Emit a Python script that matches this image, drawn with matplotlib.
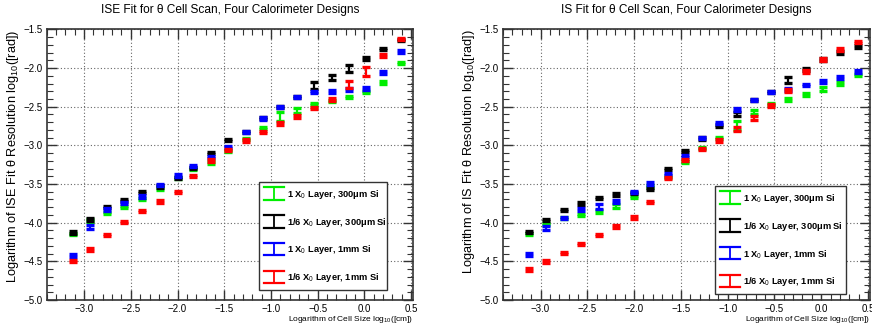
import matplotlib
matplotlib.use("Agg")
import matplotlib.pyplot as plt
from matplotlib.ticker import MultipleLocator
from matplotlib.legend_handler import HandlerBase
from matplotlib.lines import Line2D

main_font = 'Liberation Sans'
plt.rcParams['font.family'] = [main_font, 'DejaVu Sans']
plt.rcParams['mathtext.fontset'] = 'custom'
plt.rcParams['mathtext.rm'] = main_font
plt.rcParams['mathtext.it'] = main_font
plt.rcParams['mathtext.bf'] = main_font + ':bold'
plt.rcParams['axes.unicode_minus'] = True

# log10 of cell size [cm]
cell_size_log = [-3.12, -2.94, -2.75, -2.57, -2.38, -2.19, -2.00, -1.83, -1.64, -1.46,
                 -1.27, -1.09, -0.90, -0.72, -0.54, -0.35, -0.16, 0.02, 0.20, 0.39]

labels = ["1 X$_0$ Layer, 300\u03bcm Si", "1/6 X$_0$ Layer, 300\u03bcm Si",
          "1 X$_0$ Layer, 1mm Si", "1/6 X$_0$ Layer, 1mm Si"]
colors = ["#00ee00", "#000000", "#0000ff", "#ff0000"]

# ISE fit
ise_green = [-4.15, -3.97, -3.875, -3.80, -3.69, -3.557, -3.42, -3.306, -3.22, -3.07,
             -2.919, -2.777, -2.627, -2.549, -2.466, -2.424, -2.376, -2.311, -2.187, -1.937]
ise_black = [-4.125, -3.96, -3.797, -3.703, -3.60, -3.53, -3.423, -3.29, -3.10, -2.928,
             -2.829, -2.65, -2.505, -2.37, -2.226, -2.122, -2.002, -1.881, -1.756, -1.636]
ise_blue = [-4.42, -4.056, -3.83, -3.745, -3.66, -3.513, -3.389, -3.264, -3.151, -3.022,
            -2.83, -2.652, -2.505, -2.376, -2.307, -2.303, -2.282, -2.26, -2.058, -1.787]
ise_red = [-4.495, -4.345, -4.16, -3.987, -3.849, -3.725, -3.60, -3.40, -3.195, -3.06,
           -2.937, -2.824, -2.712, -2.626, -2.518, -2.411, -2.217, -2.045, -1.842, -1.623]
ise_green_err = [0.015, 0.015, 0.015, 0.015, 0.015, 0.015, 0.015, 0.015, 0.015, 0.015,
                 0.015, 0.015, 0.056, 0.032, 0.015, 0.015, 0.015, 0.015, 0.015, 0.015]
ise_black_err = [0.015, 0.015, 0.015, 0.015, 0.015, 0.015, 0.015, 0.015, 0.015, 0.015,
                 0.015, 0.015, 0.015, 0.015, 0.047, 0.037, 0.047, 0.02, 0.015, 0.015]
ise_blue_err = [0.02, 0.02, 0.015, 0.015, 0.015, 0.015, 0.015, 0.015, 0.015, 0.015,
                0.015, 0.015, 0.015, 0.015, 0.015, 0.015, 0.02, 0.02, 0.015, 0.015]
ise_red_err = [0.015, 0.015, 0.015, 0.015, 0.015, 0.015, 0.015, 0.015, 0.015, 0.015,
               0.015, 0.015, 0.02, 0.02, 0.015, 0.02, 0.045, 0.058, 0.02, 0.015]

# IS fit
is_green = [-4.146, -4.017, -3.94, -3.897, -3.854, -3.784, -3.668, -3.526, -3.41, -3.216,
            -3.03, -2.902, -2.743, -2.57, -2.463, -2.407, -2.337, -2.269, -2.195, -2.088]
is_black = [-4.12, -3.965, -3.836, -3.75, -3.677, -3.634, -3.616, -3.561, -3.302, -3.074,
            -2.91, -2.751, -2.592, -2.411, -2.311, -2.152, -2.023, -1.89, -1.80, -1.726]
is_blue = [-4.41, -4.07, -3.935, -3.828, -3.79, -3.725, -3.604, -3.492, -3.371, -3.138,
           -2.902, -2.708, -2.536, -2.411, -2.311, -2.278, -2.217, -2.174, -2.123, -2.045]
is_red = [-4.607, -4.50, -4.392, -4.276, -4.16, -4.048, -3.931, -3.729, -3.423, -3.186,
          -3.044, -2.937, -2.786, -2.648, -2.484, -2.29, -2.045, -1.89, -1.761, -1.666]
is_green_err = [0.015, 0.015, 0.015, 0.015, 0.02, 0.02, 0.015, 0.015, 0.015, 0.015,
                0.015, 0.015, 0.06, 0.03, 0.015, 0.02, 0.02, 0.025, 0.02, 0.015]
is_black_err = [0.015, 0.015, 0.015, 0.015, 0.015, 0.015, 0.015, 0.015, 0.015, 0.015,
                0.015, 0.015, 0.03, 0.015, 0.015, 0.039, 0.02, 0.015, 0.02, 0.02]
is_blue_err = [0.015, 0.025, 0.015, 0.015, 0.03, 0.02, 0.015, 0.015, 0.015, 0.015,
               0.015, 0.015, 0.02, 0.015, 0.015, 0.015, 0.015, 0.015, 0.015, 0.02]
is_red_err = [0.015, 0.015, 0.015, 0.015, 0.015, 0.015, 0.015, 0.015, 0.015, 0.015,
              0.015, 0.015, 0.03, 0.025, 0.015, 0.015, 0.015, 0.015, 0.015, 0.015]

panels = [
    dict(title="ISE Fit for \u03b8 Cell Scan, Four Calorimeter Designs",
         ylabel="Logarithm of ISE Fit \u03b8 Resolution log$_{10}$([rad])",
         series=[ise_green, ise_black, ise_blue, ise_red],
         errs=[ise_green_err, ise_black_err, ise_blue_err, ise_red_err],
         rect=[0.0536, 0.0964, 0.420, 0.815],
         leg=(0.566, 0.02, 0.377, 0.416)),
    dict(title="IS Fit for \u03b8 Cell Scan, Four Calorimeter Designs",
         ylabel="Logarithm of IS Fit \u03b8 Resolution log$_{10}$([rad])",
         series=[is_green, is_black, is_blue, is_red],
         errs=[is_green_err, is_black_err, is_blue_err, is_red_err],
         rect=[0.577, 0.0964, 0.4205, 0.815],
         leg=(0.564, 0.005, 0.384, 0.43)),
]


class HandlerIBar(HandlerBase):
    def create_artists(self, legend, orig_handle, xdescent, ydescent, width, height,
                       fontsize, trans):
        col = orig_handle.lines[2][0].get_color()[0] if orig_handle.lines[2] else 'k'
        xc = width / 2 - xdescent
        y0 = -ydescent - 0.45 * height
        y1 = -ydescent + 1.45 * height
        hw = width / 2
        v = Line2D([xc, xc], [y0, y1], color=col, lw=1.3, transform=trans)
        c1 = Line2D([xc - hw, xc + hw], [y0, y0], color=col, lw=1.6, transform=trans)
        c2 = Line2D([xc - hw, xc + hw], [y1, y1], color=col, lw=1.6, transform=trans)
        return [v, c1, c2]


fig = plt.figure(figsize=(8.72, 3.32), dpi=100)

for p in panels:
    ax = fig.add_axes(p['rect'])
    handles = []
    for vals, errs, col, lab in zip(p['series'], p['errs'], colors, labels):
        h = ax.errorbar(cell_size_log, vals, yerr=errs, fmt='none', ecolor=col,
                        elinewidth=1.6, capsize=3.2, capthick=2.4, label=lab)
        handles.append(h)
    ax.set_xlim(-3.4, 0.52)
    ax.set_ylim(-5, -1.5)
    ax.xaxis.set_major_locator(MultipleLocator(0.5))
    ax.xaxis.set_minor_locator(MultipleLocator(0.1))
    ax.yaxis.set_major_locator(MultipleLocator(0.5))
    ax.yaxis.set_minor_locator(MultipleLocator(0.1))
    ax.tick_params(which='both', direction='in', top=True, right=True,
                   labelsize=7, color='#333333', pad=3)
    ax.tick_params(which='major', length=7, width=1)
    ax.tick_params(which='minor', length=4, width=0.8)
    ax.grid(True, which='major', linestyle=(0, (1, 2)), color='#666666', linewidth=0.8)
    for s in ax.spines.values():
        s.set_linewidth(1.2)
        s.set_color('#333333')
    ax.set_title(p['title'], fontsize=8.6, pad=12)
    ax.set_xlabel("Logarithm of Cell Size log$_{10}$([cm])", fontsize=6, loc='right', labelpad=0)
    ax.set_ylabel(p['ylabel'], fontsize=9.2, loc='top', labelpad=2)
    leg = ax.legend(handles=handles, loc='lower left', bbox_to_anchor=p['leg'],
                    mode='expand', fancybox=False, framealpha=1, edgecolor='#333333',
                    prop={'size': 6.7, 'weight': 'bold'}, handlelength=2.1,
                    labelspacing=1.6, borderpad=0.6, handletextpad=0.3,
                    handler_map={type(handles[0]): HandlerIBar()})
    leg.get_frame().set_linewidth(1.0)

fig.savefig("out.png", dpi=100)
